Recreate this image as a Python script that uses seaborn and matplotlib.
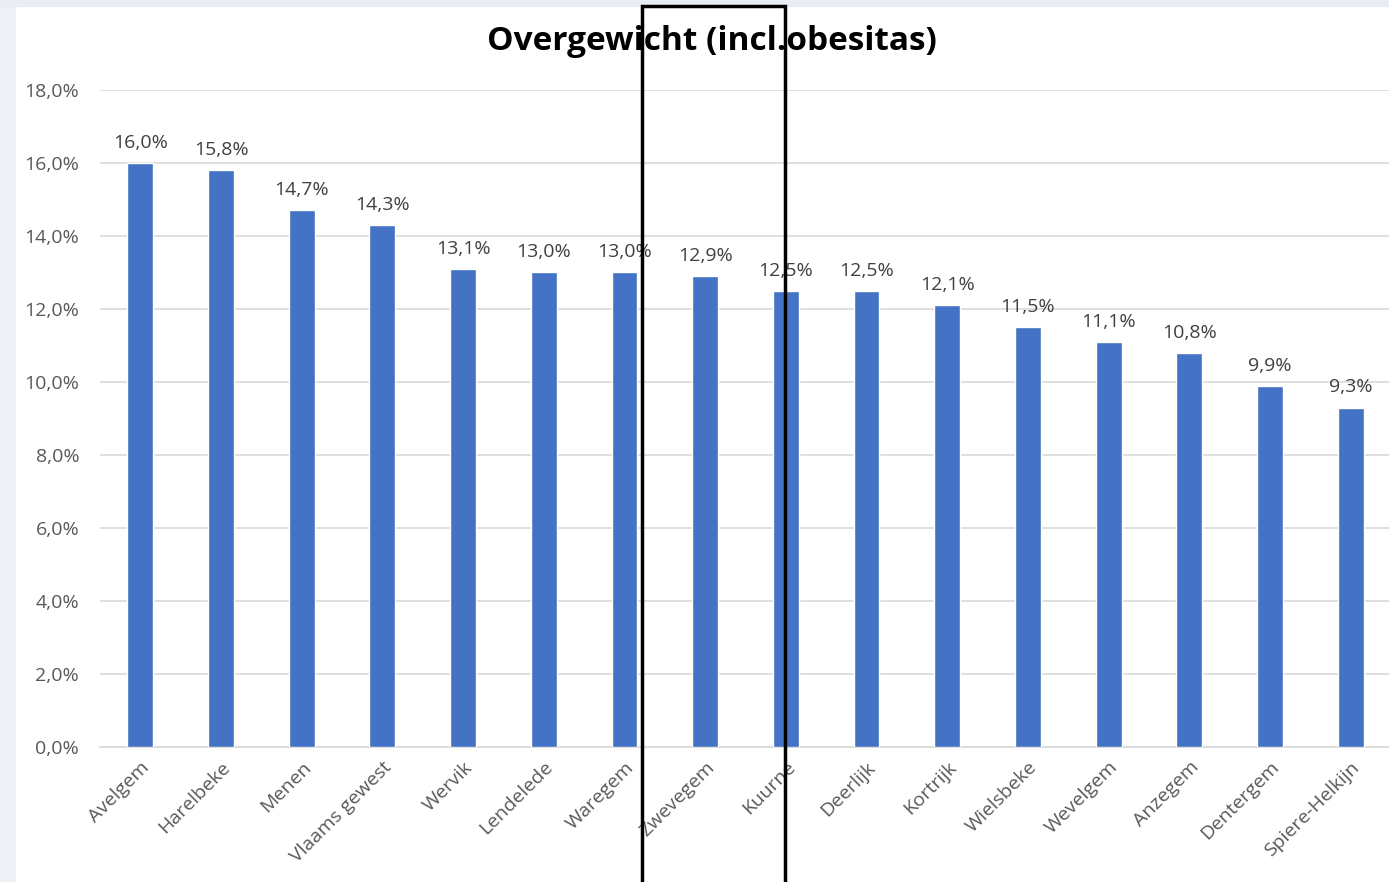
import numpy as np
import pandas as pd
import seaborn as sns
import matplotlib.pyplot as plt
from matplotlib.patches import Rectangle
from matplotlib.ticker import FuncFormatter

gemeenten = ['Avelgem', 'Harelbeke', 'Menen', 'Vlaams gewest', 'Wervik', 'Lendelede',
             'Waregem', 'Zwevegem', 'Kuurne', 'Deerlijk', 'Kortrijk', 'Wielsbeke',
             'Wevelgem', 'Anzegem', 'Dentergem', 'Spiere-Helkijn']
overgewicht = [16.0, 15.8, 14.7, 14.3, 13.1, 13.0, 13.0, 12.9, 12.5, 12.5, 12.1, 11.5,
               11.1, 10.8, 9.9, 9.3]
titel = 'Overgewicht (incl.obesitas)'

df = pd.DataFrame({'gemeente': gemeenten, 'pct': overgewicht})

sns.set_style('white')
plt.rcParams['font.family'] = ['Open Sans', 'DejaVu Sans']

fig = plt.figure(figsize=(13.89, 8.82), dpi=100)
fig.patch.set_facecolor('white')

# screenshot edges (light blue strip left and top)
fig.patches.append(Rectangle((0, 0), 15 / 1389, 1, transform=fig.transFigure,
                             color='#edf1f6', zorder=0))
fig.patches.append(Rectangle((0, 876 / 882), 1, 6 / 882, transform=fig.transFigure,
                             color='#e8edf4', zorder=0))

ax = fig.add_axes([100 / 1389, 135 / 882, 1291 / 1389, 657 / 882])
ax.set_facecolor('none')
sns.barplot(data=df, x='gemeente', y='pct', color='#4472C4', width=0.32,
            saturation=1, ax=ax, zorder=3)

ax.set_ylim(0, 18)
ax.set_yticks(np.arange(0, 18.1, 2))
ax.yaxis.set_major_formatter(FuncFormatter(lambda v, p: f'{v:.1f}%'.replace('.', ',')))
ax.grid(axis='y', color='#d9d9d9', lw=1.2, zorder=0)
for s in ['top', 'right', 'left']:
    ax.spines[s].set_visible(False)
ax.spines['bottom'].set_color('#d9d9d9')
ax.spines['bottom'].set_linewidth(1.2)
ax.tick_params(axis='both', length=0, labelsize=14, labelcolor='#595959')
ax.tick_params(axis='y', pad=15)
ax.set_xlabel('')
ax.set_ylabel('')
plt.setp(ax.get_xticklabels(), rotation=45, ha='right', rotation_mode='anchor')
ax.tick_params(axis='x', pad=8)

for i, v in enumerate(overgewicht):
    ax.annotate(f'{v:.1f}%'.replace('.', ','), (i, v), xytext=(0, 8),
                textcoords='offset points', ha='center', va='bottom',
                fontsize=14, color='#404040')

fig.text(712 / 1389, 841 / 882, titel, ha='center', va='center',
         fontsize=24, fontweight='bold', color='black')

# black frame around Zwevegem and Kuurne
fig.patches.append(Rectangle((642 / 1389, -0.02), 143 / 1389, 0.02 + 876 / 882,
                             transform=fig.transFigure, fill=False,
                             edgecolor='black', lw=2.5, zorder=10))

fig.savefig('out.png', dpi=100)
